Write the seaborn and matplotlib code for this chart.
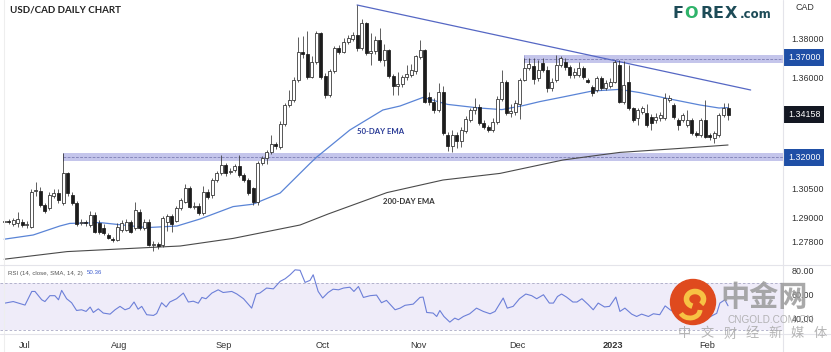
import numpy as np
import pandas as pd
import matplotlib
matplotlib.use('Agg')
from matplotlib import pyplot as plt
from matplotlib.lines import Line2D
from matplotlib.patches import Circle, Arc
from matplotlib.ticker import FuncFormatter
import seaborn as sns


FIG_W, FIG_H = 831, 352
PLOT_RIGHT = 783

opens = [1.2880, 1.2885, 1.2870, 1.2873, 1.2882, 1.2865, 1.2857, 1.3035, 1.3037, 1.2965,
         1.2948, 1.3012, 1.3025, 1.2975, 1.3125, 1.3015, 1.2973, 1.2875, 1.2882, 1.2866,
         1.2915, 1.2875, 1.2850, 1.2815, 1.2795, 1.2790, 1.2840, 1.2842, 1.2882, 1.2848,
         1.2932, 1.2848, 1.2882, 1.2765, 1.2768, 1.2765, 1.2880, 1.2910, 1.2885, 1.2948,
         1.2982, 1.3048, 1.2957, 1.2962, 1.2925, 1.3032, 1.3015, 1.3090, 1.3123, 1.3165,
         1.3130, 1.3140, 1.3158, 1.3115, 1.3090, 1.3048, 1.2982, 1.3173, 1.3200, 1.3232,
         1.3270, 1.3255, 1.3370, 1.3465, 1.3490, 1.3590, 1.3732, 1.3722, 1.3607, 1.3682,
         1.3823, 1.3610, 1.3515, 1.3633, 1.3748, 1.3732, 1.3782, 1.3795, 1.3815, 1.3748,
         1.3873, 1.3723, 1.3735, 1.3790, 1.3690, 1.3738, 1.3610, 1.3560, 1.3570, 1.3605,
         1.3615, 1.3635, 1.3705, 1.3740, 1.3505, 1.3482, 1.3440, 1.3532, 1.3315, 1.3260,
         1.3315, 1.3285, 1.3335, 1.3390, 1.3440, 1.3457, 1.3375, 1.3355, 1.3340, 1.3380,
         1.3495, 1.3580, 1.3425, 1.3430, 1.3470, 1.3590, 1.3648, 1.3660, 1.3598, 1.3675,
         1.3640, 1.3548, 1.3590, 1.3665, 1.3682, 1.3655, 1.3615, 1.3615, 1.3648, 1.3592,
         1.3557, 1.3540, 1.3598, 1.3550, 1.3558, 1.3582, 1.3665, 1.3482, 1.3582, 1.3448,
         1.3398, 1.3432, 1.3423, 1.3407, 1.3390, 1.3400, 1.3398, 1.3490, 1.3465, 1.3390,
         1.3390, 1.3365, 1.3390, 1.3323, 1.3315, 1.3390, 1.3315, 1.3298, 1.3315, 1.3415,
         1.3448]
highs = [1.2898, 1.2895, 1.2900, 1.2932, 1.2895, 1.2885, 1.3045, 1.3082, 1.3055, 1.2975,
         1.3030, 1.3045, 1.3045, 1.3223, 1.3130, 1.3030, 1.2985, 1.2895, 1.2890, 1.2935,
         1.2930, 1.2890, 1.2870, 1.2825, 1.2805, 1.2875, 1.2890, 1.2895, 1.2890, 1.2982,
         1.2945, 1.2895, 1.2895, 1.2785, 1.2780, 1.2910, 1.2920, 1.2920, 1.2960, 1.3000,
         1.3070, 1.3060, 1.2980, 1.2975, 1.3060, 1.3045, 1.3100, 1.3135, 1.3215, 1.3175,
         1.3150, 1.3170, 1.3215, 1.3125, 1.3100, 1.3055, 1.3185, 1.3210, 1.3240, 1.3315,
         1.3280, 1.3385, 1.3475, 1.3540, 1.3605, 1.3807, 1.3810, 1.3835, 1.3710, 1.3835,
         1.3830, 1.3625, 1.3645, 1.3760, 1.3765, 1.3800, 1.3815, 1.3830, 1.3965, 1.3895,
         1.3880, 1.3823, 1.3808, 1.3850, 1.3770, 1.3745, 1.3620, 1.3630, 1.3615, 1.3665,
         1.3672, 1.3715, 1.3790, 1.3745, 1.3530, 1.3500, 1.3575, 1.3560, 1.3330, 1.3340,
         1.3330, 1.3355, 1.3410, 1.3450, 1.3498, 1.3470, 1.3390, 1.3365, 1.3400, 1.3510,
         1.3640, 1.3590, 1.3470, 1.3490, 1.3600, 1.3700, 1.3700, 1.3700, 1.3690, 1.3700,
         1.3660, 1.3600, 1.3715, 1.3710, 1.3700, 1.3665, 1.3650, 1.3680, 1.3660, 1.3600,
         1.3565, 1.3610, 1.3610, 1.3590, 1.3598, 1.3690, 1.3690, 1.3685, 1.3665, 1.3455,
         1.3450, 1.3460, 1.3470, 1.3420, 1.3425, 1.3430, 1.3523, 1.3515, 1.3475, 1.3400,
         1.3425, 1.3440, 1.3400, 1.3335, 1.3400, 1.3490, 1.3325, 1.3335, 1.3425, 1.3473,
         1.3473]
lows = [1.2865, 1.2868, 1.2860, 1.2857, 1.2855, 1.2850, 1.2850, 1.3010, 1.2955, 1.2925,
        1.2940, 1.3000, 1.2975, 1.2965, 1.3010, 1.2965, 1.2860, 1.2865, 1.2860, 1.2855,
        1.2825, 1.2820, 1.2815, 1.2795, 1.2780, 1.2785, 1.2830, 1.2835, 1.2825, 1.2840,
        1.2840, 1.2840, 1.2760, 1.2735, 1.2745, 1.2755, 1.2835, 1.2832, 1.2878, 1.2940,
        1.2975, 1.2950, 1.2945, 1.2915, 1.2915, 1.2995, 1.3000, 1.3080, 1.3115, 1.3110,
        1.3120, 1.3130, 1.3105, 1.3080, 1.3015, 1.2965, 1.2965, 1.3165, 1.3170, 1.3220,
        1.3245, 1.3245, 1.3360, 1.3455, 1.3480, 1.3580, 1.3700, 1.3595, 1.3600, 1.3670,
        1.3595, 1.3500, 1.3505, 1.3625, 1.3720, 1.3725, 1.3770, 1.3785, 1.3735, 1.3740,
        1.3715, 1.3665, 1.3720, 1.3680, 1.3660, 1.3600, 1.3515, 1.3515, 1.3555, 1.3590,
        1.3605, 1.3620, 1.3695, 1.3475, 1.3465, 1.3425, 1.3430, 1.3315, 1.3235, 1.3228,
        1.3250, 1.3255, 1.3325, 1.3380, 1.3420, 1.3365, 1.3345, 1.3330, 1.3330, 1.3370,
        1.3485, 1.3415, 1.3405, 1.3415, 1.3395, 1.3585, 1.3640, 1.3570, 1.3585, 1.3630,
        1.3530, 1.3535, 1.3580, 1.3655, 1.3640, 1.3600, 1.3600, 1.3605, 1.3595, 1.3575,
        1.3510, 1.3530, 1.3540, 1.3540, 1.3550, 1.3575, 1.3475, 1.3470, 1.3440, 1.3380,
        1.3365, 1.3420, 1.3355, 1.3340, 1.3375, 1.3385, 1.3390, 1.3480, 1.3395, 1.3340,
        1.3380, 1.3355, 1.3315, 1.3305, 1.3305, 1.3298, 1.3290, 1.3275, 1.3305, 1.3405,
        1.3390]
closes = [1.2885, 1.2878, 1.2890, 1.2893, 1.2865, 1.2870, 1.3032, 1.3040, 1.2965, 1.2935,
          1.3015, 1.3025, 1.2990, 1.3125, 1.3023, 1.2973, 1.2870, 1.2882, 1.2876, 1.2915,
          1.2832, 1.2830, 1.2823, 1.2800, 1.2790, 1.2857, 1.2877, 1.2882, 1.2832, 1.2940,
          1.2848, 1.2882, 1.2765, 1.2768, 1.2760, 1.2898, 1.2910, 1.2870, 1.2948, 1.2990,
          1.3048, 1.2957, 1.2962, 1.2925, 1.3032, 1.3007, 1.3090, 1.3123, 1.3165, 1.3123,
          1.3135, 1.3158, 1.3115, 1.3090, 1.3023, 1.2982, 1.3173, 1.3200, 1.3232, 1.3270,
          1.3260, 1.3370, 1.3465, 1.3490, 1.3590, 1.3732, 1.3722, 1.3607, 1.3682, 1.3823,
          1.3607, 1.3515, 1.3633, 1.3748, 1.3732, 1.3782, 1.3798, 1.3815, 1.3748, 1.3873,
          1.3723, 1.3735, 1.3790, 1.3690, 1.3740, 1.3610, 1.3560, 1.3570, 1.3605, 1.3620,
          1.3640, 1.3710, 1.3740, 1.3482, 1.3482, 1.3440, 1.3532, 1.3325, 1.3260, 1.3315,
          1.3285, 1.3340, 1.3395, 1.3440, 1.3457, 1.3375, 1.3355, 1.3340, 1.3380, 1.3495,
          1.3580, 1.3425, 1.3435, 1.3475, 1.3590, 1.3648, 1.3668, 1.3595, 1.3640, 1.3640,
          1.3548, 1.3580, 1.3665, 1.3698, 1.3655, 1.3615, 1.3632, 1.3648, 1.3607, 1.3582,
          1.3523, 1.3598, 1.3548, 1.3575, 1.3582, 1.3682, 1.3482, 1.3565, 1.3448, 1.3390,
          1.3440, 1.3448, 1.3365, 1.3373, 1.3407, 1.3415, 1.3498, 1.3500, 1.3407, 1.3365,
          1.3415, 1.3390, 1.3323, 1.3315, 1.3390, 1.3307, 1.3307, 1.3323, 1.3415, 1.3448,
          1.3416]

# moving averages at selected bars
ema50_idx = [0, 6.4, 12.3, 14.5, 21.2, 31.6, 38.2, 43.3, 50.6, 55, 61, 67.6, 69.1, 76.4,
             83.7, 87.5, 92.6, 98, 105, 110, 114.7, 118.4, 123.5, 130, 136, 140.5, 146.5,
             153.8, 158, 160]
ema50_val = [1.2794, 1.2815, 1.2860, 1.2873, 1.2877, 1.2852, 1.2860, 1.2895, 1.2957, 1.2969,
             1.3025, 1.3173, 1.3205, 1.3340, 1.3440, 1.3460, 1.3503, 1.3468, 1.3450, 1.3442,
             1.3462, 1.3482, 1.3505, 1.3535, 1.3543, 1.3527, 1.3498, 1.3465, 1.3450, 1.3452]
ema200_idx = [0, 13.9, 31.6, 38.9, 50.6, 65.4, 71.6, 84.6, 97, 109.6, 123.5, 131.7, 136.1,
              149.4, 160]
ema200_val = [1.2694, 1.2732, 1.2752, 1.2760, 1.2798, 1.2865, 1.2920, 1.3027, 1.3090, 1.3123,
              1.3190, 1.3215, 1.3228, 1.3248, 1.3265]

trend_idx = [78, 165]
trend_val = [1.3965, 1.3540]

zone_labels = ['1.32000', '1.37000']
zone_low = [1.3186, 1.3675]
zone_high = [1.3224, 1.3715]
zone_start = [13, 115]

last_price = 1.34158
price_ticks = [1.38, 1.36, 1.305, 1.29, 1.278]

rsi_idx = [0.2, 2.0, 4.6, 6.1, 6.8, 8.3, 9.0, 10.1, 11.2, 12.0,
           12.7, 13.8, 14.9, 16.0, 17.1, 18.1, 19.0, 19.7, 20.8, 21.9,
           23.4, 24.5, 25.6, 26.7, 27.7, 28.7, 29.6, 30.4, 31.5, 33.0,
           33.7, 34.8, 35.8, 36.6, 38.1, 39.6, 40.7, 41.8, 42.9, 43.7,
           44.6, 45.9, 47.3, 48.4, 50.3, 51.4, 52.9, 54.7, 55.7, 56.5,
           58.0, 59.5, 61.0, 62.1, 63.2, 64.3, 65.4, 66.5, 67.6, 68.3,
           69.4, 70.4, 71.6, 72.7, 73.9, 75.0, 76.4, 77.3, 78.3, 79.4,
           80.9, 82.3, 83.4, 84.5, 86.4, 87.5, 88.6, 90.4, 91.9, 92.6,
           93.4, 94.8, 95.6, 96.3, 97.2, 98.5, 99.6, 100.4, 101.5, 102.9,
           104.4, 105.9, 107.4, 108.5, 110.3, 111.2, 112.5, 113.9, 115.3, 116.6,
           117.7, 119.2, 120.5, 121.4, 122.3, 123.2, 124.3, 125.7, 126.6, 127.7,
           129.1, 130.2, 131.3, 132.7, 133.8, 135.2, 136.1, 137.2, 138.7, 139.8,
           140.9, 142.4, 143.5, 144.9, 146.1, 147.2, 148.5, 150.0, 151.5, 153.0,
           154.5, 156.0, 157.5, 158.2, 159.3, 160]
rsi_val = [52.7, 54, 51, 62.6, 62.6, 55.5, 54, 59, 59, 55.5,
           63.5, 56.4, 53, 46.4, 47, 45.6, 49.3, 44.7, 47.8, 44.2,
           43.3, 47, 49.9, 47, 48.4, 53.6, 47.5, 49.9, 42.8, 42.2,
           43.8, 53, 49.4, 53.6, 56.4, 61.2, 53.6, 54.3, 52.6, 57.5,
           56.4, 61.2, 64, 61.7, 62.6, 60.5, 56.4, 48.4, 60.5, 61.2,
           65.5, 64.8, 71.2, 73.4, 76.8, 81, 80.6, 70.3, 72, 76.8,
           62.6, 57, 61.7, 64.5, 64, 65.5, 66.2, 62.6, 66.8, 57.5,
           59, 59.5, 53, 55, 47, 48.4, 50.8, 51.8, 57.5, 57.8,
           44.7, 44.2, 41.3, 46.4, 41.3, 36.5, 39.9, 38.5, 41.3, 43.6,
           48.4, 45.6, 43.6, 45.6, 57, 48.4, 49.9, 56.4, 60.4, 59,
           56.4, 59.8, 52.7, 52.7, 58.3, 60.4, 57.8, 53.6, 53.6, 56.4,
           51.4, 47, 52.7, 49.4, 49.9, 57.8, 45.6, 48.4, 43.3, 41.3,
           43.3, 41.3, 43.6, 42.8, 50.3, 47, 44, 46, 43, 40,
           46, 41, 44, 52.7, 55.5, 50.4]
rsi_last = 50.36
rsi_ticks = [80, 60, 40]

month_labels = ['Jul', 'Aug', 'Sep', 'Oct', 'Nov', 'Dec', '2023', 'Feb']


def trading_days():
    days = pd.bdate_range('2022-06-27', '2023-02-08')
    return days.drop(pd.to_datetime(['2022-12-26', '2023-01-02']))


def px_x(x):
    return x / FIG_W


def px_y(y):
    return 1 - y / FIG_H


def draw_candles(ax, idx):
    o, h, l, c = (np.array(v) for v in (opens, highs, lows, closes))
    up = c >= o
    ax.vlines(idx, l, h, color='#333333', lw=0.55, zorder=3)
    bottom = np.minimum(o, c)
    height = np.maximum(np.abs(c - o), 0.00025)
    ax.bar(idx[up], height[up], bottom=bottom[up], width=0.66, color='white',
           edgecolor='#2a2a2a', linewidth=0.55, zorder=4)
    ax.bar(idx[~up], height[~up], bottom=bottom[~up], width=0.66, color='#1c1c1c',
           edgecolor='#1c1c1c', linewidth=0.55, zorder=4)


def draw_zones(ax, xmax):
    for lab, lo, hi, start in zip(zone_labels, zone_low, zone_high, zone_start):
        ax.fill_between([start, xmax], lo, hi, color='#c4c5eb', lw=0, zorder=1)
        ax.vlines(start, lo, hi, color='#9a9ad0', lw=0.6, zorder=1)
        ax.hlines((lo + hi) / 2, start, xmax, color='#6e6fa8', lw=0.5,
                  linestyles=(0, (4, 2)), zorder=2)
        ax.text(1.0 + 5 / PLOT_RIGHT, float(lab), lab, transform=ax.get_yaxis_transform(),
                ha='left', va='center', color='white', fontsize=6.4,
                bbox=dict(boxstyle='square,pad=0.45', fc='#1f4fa6', ec='none'), clip_on=False)


def plot():
    sns.set_theme(style='white')
    plt.rcParams['font.family'] = ['Liberation Sans', 'DejaVu Sans']

    days = trading_days()
    idx = np.arange(len(days))
    xlim = (-4.2 / 4.524, (PLOT_RIGHT - 4.2) / 4.524)

    fig = plt.figure(figsize=(FIG_W / 100, FIG_H / 100), dpi=100)
    fig.patch.set_facecolor('white')
    ax = fig.add_axes([0, 1 - 264 / FIG_H, PLOT_RIGHT / FIG_W, 264 / FIG_H])
    rsi_ax = fig.add_axes([0, 1 - 334 / FIG_H, PLOT_RIGHT / FIG_W, 69 / FIG_H])

    # price panel
    draw_zones(ax, xlim[1])
    draw_candles(ax, idx)
    sns.lineplot(x=ema50_idx, y=ema50_val, ax=ax, color='#5a84d6', lw=0.9, zorder=2)
    sns.lineplot(x=ema200_idx, y=ema200_val, ax=ax, color='#4a4a4a', lw=0.8, zorder=2)
    sns.lineplot(x=trend_idx, y=trend_val, ax=ax, color='#5567c4', lw=0.9, zorder=2)
    ax.text(83.1, 1.3330, '50-DAY EMA', color='#2a3b96', fontsize=5.6,
            fontweight='bold', family='Lato', ha='center', va='center')
    ax.text(89.5, 1.2985, '200-DAY EMA', color='#333333', fontsize=5.6,
            fontweight='bold', family='Lato', ha='center', va='center')
    ax.text(1.0 + 5 / PLOT_RIGHT, last_price, f'{last_price:.5f}',
            transform=ax.get_yaxis_transform(), ha='left', va='center', color='white',
            fontsize=6.4, bbox=dict(boxstyle='square,pad=0.45', fc='#131722', ec='none'),
            clip_on=False)
    ax.set_xlim(*xlim)
    ax.set_ylim(1.38 - 226 / 2000, 1.38 + 38 / 2000)
    ax.yaxis.tick_right()
    ax.set_yticks(price_ticks)
    ax.yaxis.set_major_formatter(FuncFormatter(lambda v, _: f'{v:.5f}'))
    ax.tick_params(axis='y', length=0, pad=6, labelsize=6.4, labelcolor='#333333')
    ax.set_xticks([])
    ax.set_xlabel('')
    ax.set_ylabel('')
    for side in ax.spines:
        ax.spines[side].set_visible(False)

    # rsi panel
    rsi_ax.fill_between(xlim, 30, 70, color='#efecf9', lw=0)
    rsi_ax.hlines([30, 70], *xlim, color='#a8a8c4', lw=0.6, linestyles=(0, (3, 2.5)))
    sns.lineplot(x=rsi_idx, y=rsi_val, ax=rsi_ax, color='#6c7fd8', lw=0.8)
    rsi_ax.set_xlim(*xlim)
    rsi_ax.set_ylim(40 - 16 / 1.175, 80 + 6 / 1.175)
    rsi_ax.yaxis.tick_right()
    rsi_ax.set_yticks(rsi_ticks)
    rsi_ax.yaxis.set_major_formatter(FuncFormatter(lambda v, _: f'{v:.2f}'))
    rsi_ax.tick_params(axis='y', length=0, pad=6, labelsize=6.4, labelcolor='#333333')
    month_pos = np.flatnonzero(np.r_[False, days.month[1:] != days.month[:-1]])
    rsi_ax.set_xticks(month_pos + 0.5)
    rsi_ax.set_xticklabels(month_labels)
    rsi_ax.tick_params(axis='x', length=0, pad=5, labelsize=6.6, labelcolor='#333333')
    for lab in rsi_ax.get_xticklabels():
        if lab.get_text() == '2023':
            lab.set_fontweight('bold')
    rsi_ax.set_xlabel('')
    rsi_ax.set_ylabel('')
    for side in rsi_ax.spines:
        rsi_ax.spines[side].set_visible(False)

    # frame lines
    grey = '#e4e4ea'
    fig.add_artist(Line2D([px_x(PLOT_RIGHT)] * 2, [0, 1], color=grey, lw=0.8))
    fig.add_artist(Line2D([px_x(4)] * 2, [0, 1], color='#eeeeee', lw=0.8))
    fig.add_artist(Line2D([0, 1], [px_y(265)] * 2, color=grey, lw=0.8))
    fig.add_artist(Line2D([0, 1], [px_y(334)] * 2, color=grey, lw=0.8))

    # header texts
    fig.text(px_x(10), px_y(10), 'USD/CAD DAILY CHART', fontsize=7, fontweight='bold',
             family='Lato', color='#222222', va='center')
    fig.text(px_x(795), px_y(8), 'CAD', fontsize=6.4, color='#333333', va='center')
    logo = [('F', 673, '#1d4b57'), ('O', 684, '#2fb36a'), ('R', 700, '#1d4b57'),
            ('E', 713, '#1d4b57'), ('X', 725, '#1d4b57')]
    for ch, x, col in logo:
        fig.text(px_x(x), px_y(14), ch, fontsize=11.5, fontweight='bold', color=col,
                 family='DejaVu Sans', va='center')
    fig.text(px_x(740), px_y(15), '.com', fontsize=8.5, fontweight='bold', color='#1d4b57',
             family='DejaVu Sans', va='center')
    rsi_name = fig.text(px_x(8), px_y(273), 'RSI (14, close, SMA, 14, 2)', fontsize=4.4,
                        color='#555555', va='center')
    fig.canvas.draw()
    name_end = rsi_name.get_window_extent().x1
    fig.text((name_end + 4) / FIG_W, px_y(273), f'{rsi_last:.2f}', fontsize=4.4,
             color='#3f5fd0', va='center')

    # watermark
    fig.add_artist(Circle((6.93, 0.50), 0.225, transform=fig.dpi_scale_trans,
                          color='#df4a1e', zorder=6))
    fig.add_artist(Arc((6.95, 0.53), 0.17, 0.15, theta1=-40, theta2=250,
                       transform=fig.dpi_scale_trans, color='#f7c244', lw=4, zorder=7))
    fig.add_artist(Arc((6.90, 0.42), 0.20, 0.16, theta1=200, theta2=360,
                       transform=fig.dpi_scale_trans, color='#f7c244', lw=3.5, zorder=7))
    fig.text(px_x(720), px_y(297), '中金网', fontsize=21, fontweight='bold',
             family=['Noto Sans CJK SC', 'DejaVu Sans'], color='#9a9a9a', alpha=0.85,
             va='center', zorder=8)
    fig.text(px_x(727), px_y(320), 'CNGOLD.COM.CN', fontsize=7.2, color='#a8a8a8',
             alpha=0.85, va='center', zorder=8)
    for k, ch in enumerate('中文财经新媒体'):
        fig.text(px_x(678 + 22.6 * k), px_y(334), ch, fontsize=9.5, color='#a8a8a8',
                 family=['Noto Sans CJK SC', 'DejaVu Sans'], alpha=0.85, va='center',
                 zorder=8)

    fig.savefig('out.png', dpi=100)


if __name__ == '__main__':
    plot()
